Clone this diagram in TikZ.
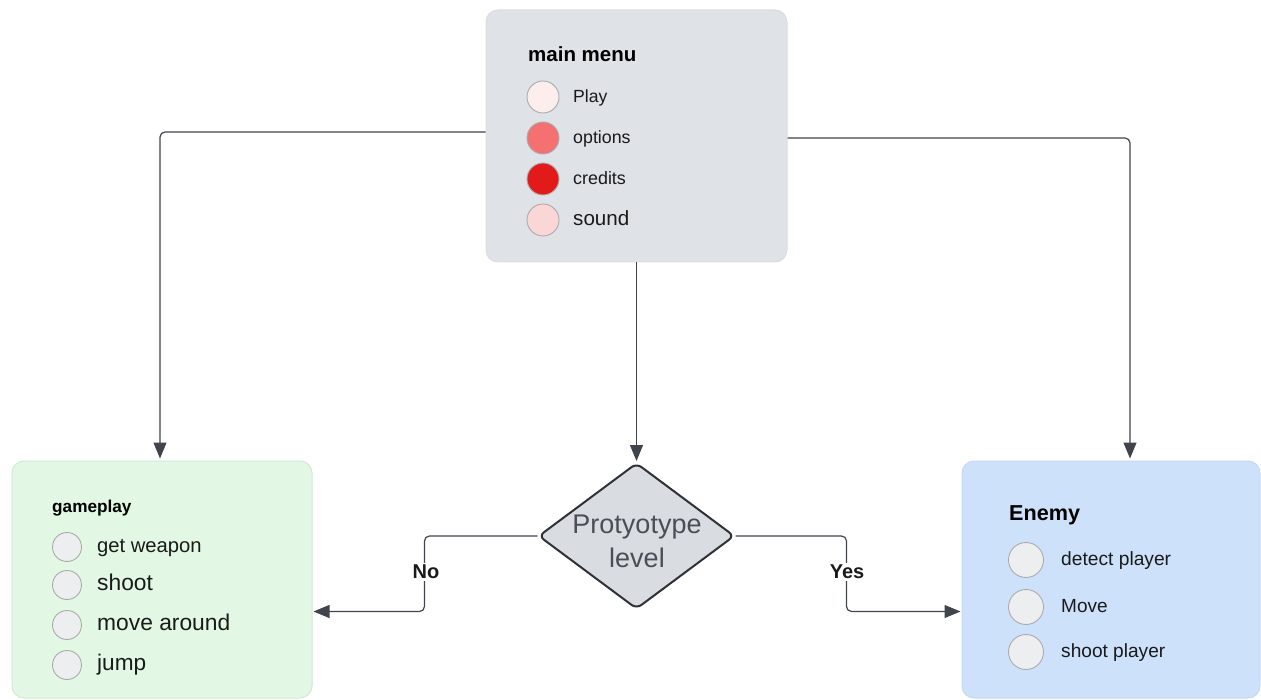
\documentclass[tikz,border=0pt]{standalone}
\usepackage{fontspec}
\setmainfont{Liberation Sans}
\usetikzlibrary{arrows.meta,shapes.geometric}

\definecolor{menufill}{HTML}{DFE2E7}
\definecolor{menuedge}{HTML}{D9DCE1}
\definecolor{gamefill}{HTML}{E2F8E4}
\definecolor{gameedge}{HTML}{D3E8D6}
\definecolor{enemyfill}{HTML}{CDE1FA}
\definecolor{enemyedge}{HTML}{C4D9F3}
\definecolor{diafill}{HTML}{D9DCE1}
\definecolor{diaedge}{HTML}{2E3138}
\definecolor{wire}{HTML}{40444D}
\definecolor{ink}{HTML}{1A1A1A}
\definecolor{soft}{HTML}{4A4E57}
\definecolor{dotfill}{HTML}{EDEEF0}
\definecolor{dotline}{HTML}{ABABAB}
\definecolor{redA}{HTML}{FDEEEE}
\definecolor{redB}{HTML}{F57171}
\definecolor{redC}{HTML}{E31A1A}
\definecolor{redD}{HTML}{FBD6D6}

\newcommand\fsz[1]{\fontsize{#1}{#1}\selectfont}

\begin{document}
\begin{tikzpicture}[x=1pt,y=-1pt,
  panel/.style={rectangle, rounded corners=12pt, inner sep=0pt, line width=1pt},
  dot/.style={circle, inner sep=0pt, draw=dotline, line width=0.9pt, fill=dotfill, minimum size=#1},
  item/.style={anchor=west, inner sep=0pt, text height=0.72em, text depth=0.2em, text=ink, yshift=-3pt},
  head/.style={item, text=black, yshift=-2pt},
  conn/.style={draw=wire, line width=1.2pt, rounded corners=5pt,
    -{Triangle[length=16pt,width=13pt]}},
  lbl/.style={fill=white, inner sep=2pt, text=ink, font=\fsz{20}\bfseries}
]
\useasboundingbox (0,0) rectangle (1261,700);

% main menu panel
\node[panel, fill=menufill, draw=menuedge, minimum width=301pt, minimum height=252pt] (mm) at (636.5,136) {};
\node[head, font=\fsz{20.5}\bfseries] (mmt) at (528,54) {main menu};
\node[dot=32pt, fill=redA] (mm1) at (543,97) {};
\node[dot=32pt, fill=redB] (mm2) at (543,138) {};
\node[dot=32pt, fill=redC] (mm3) at (543,179) {};
\node[dot=32pt, fill=redD] (mm4) at (543,220) {};
\node[item, font=\fsz{17.6}] (mm1t) at (573,97) {Play};
\node[item, font=\fsz{17.8}] (mm2t) at (573,138) {options};
\node[item, font=\fsz{17.9}] (mm3t) at (573,179) {credits};
\node[item, font=\fsz{20.6}] (mm4t) at (573,220) {sound};

% gameplay panel
\node[panel, fill=gamefill, draw=gameedge, minimum width=300pt, minimum height=237pt] (gp) at (162,579.5) {};
\node[head, font=\fsz{17.2}\bfseries] (gpt) at (52,505) {gameplay};
\node[dot=29pt] (gp1) at (67,547) {};
\node[dot=29pt] (gp2) at (67,585) {};
\node[dot=29pt] (gp3) at (67,625) {};
\node[dot=29pt] (gp4) at (67,665) {};
\node[item, font=\fsz{20.2}] (gp1t) at (97,547) {get weapon};
\node[item, font=\fsz{22.8}] (gp2t) at (97,585) {shoot};
\node[item, font=\fsz{22.8}] (gp3t) at (97,625) {move around};
\node[item, font=\fsz{22.6}] (gp4t) at (97,665) {jump};

% enemy panel
\node[panel, fill=enemyfill, draw=enemyedge, minimum width=298pt, minimum height=237pt] (en) at (1111,579.5) {};
\node[head, font=\fsz{21.6}\bfseries] (ent) at (1009,513) {Enemy};
\node[dot=35pt] (en1) at (1026,560) {};
\node[dot=35pt] (en2) at (1026,607) {};
\node[dot=35pt] (en3) at (1026,652) {};
\node[item, font=\fsz{19.2}] (en1t) at (1061,560) {detect player};
\node[item, font=\fsz{19}] (en2t) at (1061,607) {Move};
\node[item, font=\fsz{19.1}] (en3t) at (1061,652) {shoot player};

% decision
\node[diamond, fill=diafill, draw=diaedge, line width=2pt, rounded corners=6pt,
  minimum width=196pt, minimum height=146pt, inner sep=0pt] (dia) at (636.5,536) {};
\node[align=center, text=soft, font=\fontsize{27}{34}\selectfont, inner sep=0pt] (diat) at (637,541)
  {Protyotype\\level};

% connectors
\draw[conn, shorten >=2pt] ([yshift=4pt]mm.west) -| ([xshift=-2pt]gp.north);
\draw[conn, shorten >=2pt] ([yshift=-2pt]mm.east) -| ([xshift=19pt]en.north);
\draw[conn, shorten >=1pt] (mm.south) -- (dia.north);
\draw[conn, shorten >=1pt] (dia.west) -- ++(-113,0) |- ([yshift=-32pt]gp.east);
\draw[conn, shorten >=1pt] (dia.east) -- ++(111,0) |- ([yshift=-32pt]en.west);

\node[lbl] (no) at (426,572) {No};
\node[lbl] (yes) at (847,572) {Yes};
\end{tikzpicture}
\end{document}
